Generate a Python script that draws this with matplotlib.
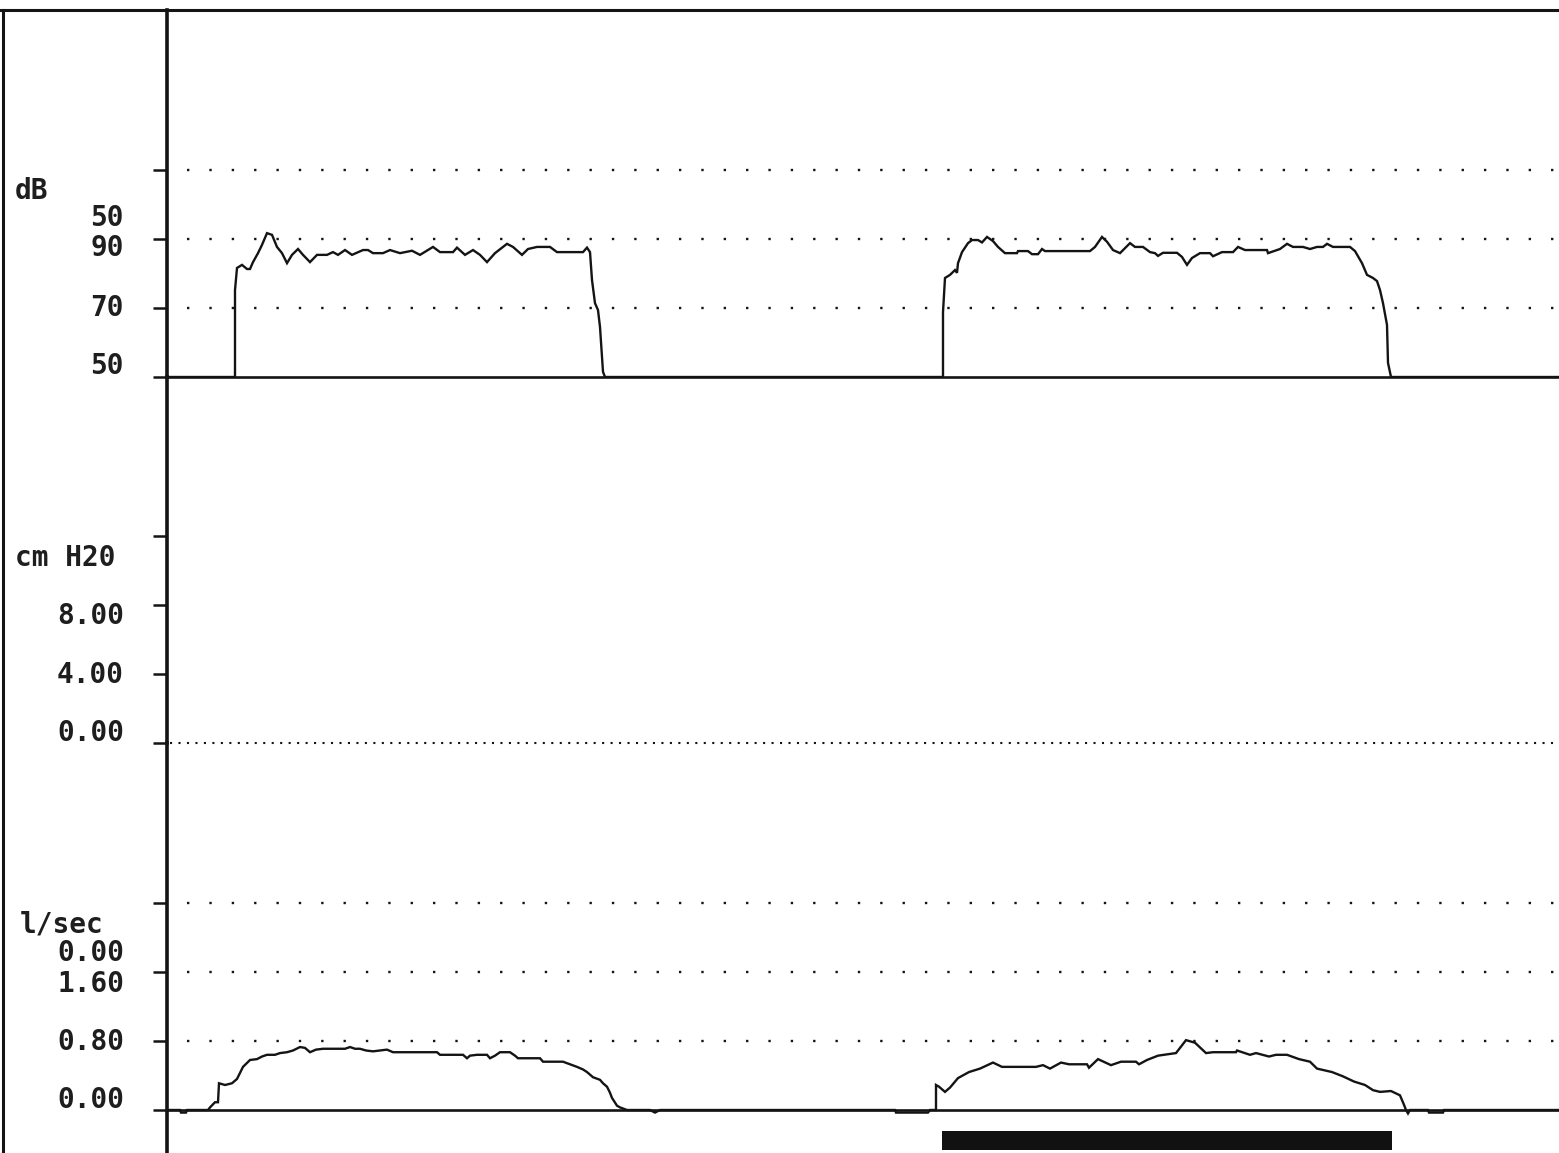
import numpy as np
import matplotlib
matplotlib.use("Agg")
import matplotlib.pyplot as plt
from matplotlib.lines import Line2D
from matplotlib.transforms import blended_transform_factory

plt.rcParams['lines.scale_dashes'] = False
plt.rcParams['font.family'] = ['DejaVu Sans Mono', 'DejaVu Sans']

# ---------------- data (x = sample index, 0..1392) ----------------
db_t = [0, 68, 68, 70, 75, 80, 83, 86, 91, 95, 100, 105, 110, 115, 120, 125, 131, 136,
        143, 150, 160, 166, 171, 178, 185, 196, 201, 206, 216, 223, 233, 245, 253, 266,
        273, 286, 290, 298, 306, 313, 320, 328, 340, 346, 355, 361, 370, 383, 390, 416,
        420, 423, 425, 428, 431, 433, 436, 438,
        776, 776, 778, 783, 788, 790, 791, 795, 801, 805, 811, 815, 820, 826, 831, 838,
        850, 851, 861, 865, 871, 875, 878, 923, 928, 935, 940, 946, 953, 963, 968, 976,
        983, 988, 991, 996, 1010, 1015, 1020, 1025, 1033, 1043, 1046, 1055, 1066, 1071,
        1078, 1100, 1101, 1113, 1120, 1126, 1136, 1143, 1150, 1156, 1160, 1166, 1183,
        1188, 1195, 1200, 1206, 1210, 1213, 1216, 1220, 1221, 1224, 1392]
db_v = [50, 50, 75.2, 81.6, 82.5, 81.3, 81.3, 83.3, 85.9, 88.3, 91.7, 91.2, 87.7, 85.9,
        83.0, 85.4, 87.1, 85.4, 83.3, 85.4, 85.4, 86.2, 85.4, 86.8, 85.4, 86.8, 86.8, 85.9,
        85.9, 86.8, 85.9, 86.6, 85.4, 87.7, 86.2, 86.2, 87.5, 85.4, 86.8, 85.4, 83.3, 85.9,
        88.6, 87.7, 85.4, 87.1, 87.7, 87.7, 86.2, 86.2, 87.5, 86.2, 78.1, 71.4, 69.4, 64.5,
        51.5, 50,
        50, 68.8, 78.7, 79.6, 81.0, 80.2, 83.0, 86.2, 88.8, 89.7, 89.7, 89.0, 90.6, 89.4,
        87.7, 85.9, 85.9, 86.5, 86.5, 85.6, 85.6, 87.1, 86.5, 86.5, 87.7, 90.6, 89.2, 86.8,
        85.9, 88.8, 87.7, 87.7, 86.2, 85.9, 85.1, 86.0, 86.0, 84.8, 82.5, 84.5, 85.9, 85.9,
        85.0, 86.2, 86.2, 87.7, 86.8, 86.8, 85.9, 87.1, 88.6, 87.7, 87.7, 87.1, 87.7, 87.7,
        88.6, 87.7, 87.7, 86.5, 83.0, 79.6, 78.7, 77.8, 75.2, 71.4, 65.1, 54.1, 50, 50]

flow_t = [0, 13, 14, 19, 20, 41, 43, 48, 51, 52, 58, 65, 70, 76, 83, 90, 95, 100, 108,
          113, 120, 126, 133, 138, 143, 149, 156, 178, 183, 188, 193, 199, 206, 213, 220,
          226, 270, 273, 296, 300, 303, 310, 320, 323, 328, 333, 343, 348, 351, 373, 376,
          396, 403, 410, 416, 420, 426, 433, 436, 440, 443, 445, 450, 453, 460, 483, 488,
          493,
          728, 729, 761, 763, 769, 769, 772, 778, 783, 791, 802, 813, 826, 835, 869, 876,
          883, 894, 902, 920, 922, 931, 944, 954, 969, 972, 980, 991, 1009, 1019, 1028,
          1039, 1046, 1069, 1070, 1083, 1089, 1102, 1109, 1120, 1132, 1143, 1150, 1165,
          1176, 1187, 1198, 1206, 1213, 1224, 1233, 1237, 1239, 1241, 1243, 1261, 1262,
          1276, 1277, 1392]
flow_v = [0, 0, -0.03, -0.03, 0, 0, 0.03, 0.09, 0.09, 0.31, 0.29, 0.31, 0.36, 0.50, 0.58,
          0.59, 0.62, 0.64, 0.64, 0.66, 0.67, 0.69, 0.73, 0.72, 0.67, 0.70, 0.71, 0.71,
          0.73, 0.71, 0.71, 0.69, 0.68, 0.69, 0.70, 0.67, 0.67, 0.64, 0.64, 0.60, 0.63,
          0.64, 0.64, 0.60, 0.63, 0.67, 0.67, 0.63, 0.60, 0.60, 0.56, 0.56, 0.53, 0.50,
          0.47, 0.44, 0.38, 0.35, 0.31, 0.27, 0.20, 0.14, 0.05, 0.03, 0, 0, -0.03, 0,
          0, -0.03, -0.03, 0, 0, 0.29, 0.27, 0.21, 0.26, 0.37, 0.44, 0.48, 0.55, 0.50,
          0.50, 0.52, 0.48, 0.55, 0.53, 0.53, 0.49, 0.59, 0.52, 0.56, 0.56, 0.53, 0.58,
          0.63, 0.66, 0.81, 0.78, 0.66, 0.67, 0.67, 0.69, 0.64, 0.66, 0.62, 0.64, 0.64,
          0.59, 0.56, 0.48, 0.44, 0.39, 0.33, 0.29, 0.23, 0.21, 0.22, 0.17, 0.06, 0, -0.04,
          0, 0, -0.03, -0.03, 0, 0]

phonation_start = 775
phonation_end = 1225

db_ticks = [50, 70, 90, 110]
db_labels = ["50", "70", "90", "50", "dB"]
db_label_pos = [53.2, 70, 87.4, 96.1, 103.9]

cm_ticks = [0, 4, 8, 12]
cm_labels = ["0.00", "4.00", "8.00", "cm H20"]
cm_label_pos = [0.58, 3.94, 7.36, 10.72]

fl_ticks = [0, 0.8, 1.6, 2.4]
fl_labels = ["0.00", "0.80", "1.60", "0.00", "l/sec"]
fl_label_pos = [0.116, 0.788, 1.461, 1.82, 2.145]

# ---------------- figure ----------------
W, H = 1559, 1153
fig = plt.figure(figsize=(W / 100, H / 100), dpi=100)
fig.patch.set_facecolor('white')

ink = '#141414'
left = 167 / W
width = 1392 / W

def px_rect(top_px, bot_px):
    return [left, (H - bot_px) / H, width, (bot_px - top_px) / H]

ax1 = fig.add_axes(px_rect(10, 377))
ax2 = fig.add_axes(px_rect(377, 743))
ax3 = fig.add_axes(px_rect(743, 1153))

ax1.set_ylim(50, 50 + 367 / 3.45)
ax2.set_ylim(0, 366 / 17.25)
ax3.set_ylim(-43 / 86.25, 367 / 86.25)

for ax, ticks in ((ax1, db_ticks), (ax2, cm_ticks), (ax3, fl_ticks)):
    ax.set_xlim(0, 1392)
    ax.set_facecolor('none')
    for s in ('top', 'right', 'bottom'):
        ax.spines[s].set_visible(False)
    ax.spines['left'].set_linewidth(2.6)
    ax.spines['left'].set_color(ink)
    ax.set_xticks([])
    ax.set_yticks(ticks)
    ax.tick_params(axis='y', direction='out', length=10, width=1.8, color=ink,
                   labelleft=False)

# top panel: dB
ax1.axhline(50, color=ink, lw=1.9, clip_on=False)
for y in db_ticks[1:]:
    ax1.plot([20, 1390], [y, y], color=ink, lw=1.7, linestyle=(0, (1.7, 14.4)))
ax1.plot(db_t, db_v, color=ink, lw=1.7, solid_joinstyle='miter')

# middle panel: cm H2O
ax2.plot([3, 1388], [0, 0], color=ink, lw=1.5, linestyle=(0, (1.5, 4.6)), clip_on=False)

# bottom panel: flow
ax3.axhline(0, color=ink, lw=1.9)
for y in fl_ticks[1:]:
    ax3.plot([20, 1390], [y, y], color=ink, lw=1.7, linestyle=(0, (1.7, 14.4)))
ax3.plot(flow_t, flow_v, color=ink, lw=1.7, solid_joinstyle='miter')
ax3.fill_between([phonation_start, phonation_end], -0.243, -0.464, color='#111111',
                 lw=0)

# labels
lab_kw = dict(fontsize=20, fontweight='bold', color='#1e1e1e', va='center',
              clip_on=False)
x_right = (124 - 167) / 1392
for ax, labels, pos in ((ax1, db_labels, db_label_pos),
                        (ax2, cm_labels, cm_label_pos),
                        (ax3, fl_labels, fl_label_pos)):
    tr = blended_transform_factory(ax.transAxes, ax.transData)
    for lab, p in zip(labels, pos):
        if lab in ("dB", "cm H20"):
            ax.text((15 - 167) / 1392, p, lab, transform=tr, ha='left', **lab_kw)
        elif lab == "l/sec":
            ax.text((20 - 167) / 1392, p, lab, transform=tr, ha='left', **lab_kw)
        else:
            ax.text(x_right, p, lab, transform=tr, ha='right', **lab_kw)

# outer frame lines
fig.add_artist(Line2D([0, 1], [(H - 10) / H] * 2, transform=fig.transFigure,
                      color=ink, lw=2.2))
fig.add_artist(Line2D([3 / W] * 2, [0, (H - 10) / H], transform=fig.transFigure,
                      color=ink, lw=2.2))

fig.savefig('out.png', dpi=100, facecolor='white')
